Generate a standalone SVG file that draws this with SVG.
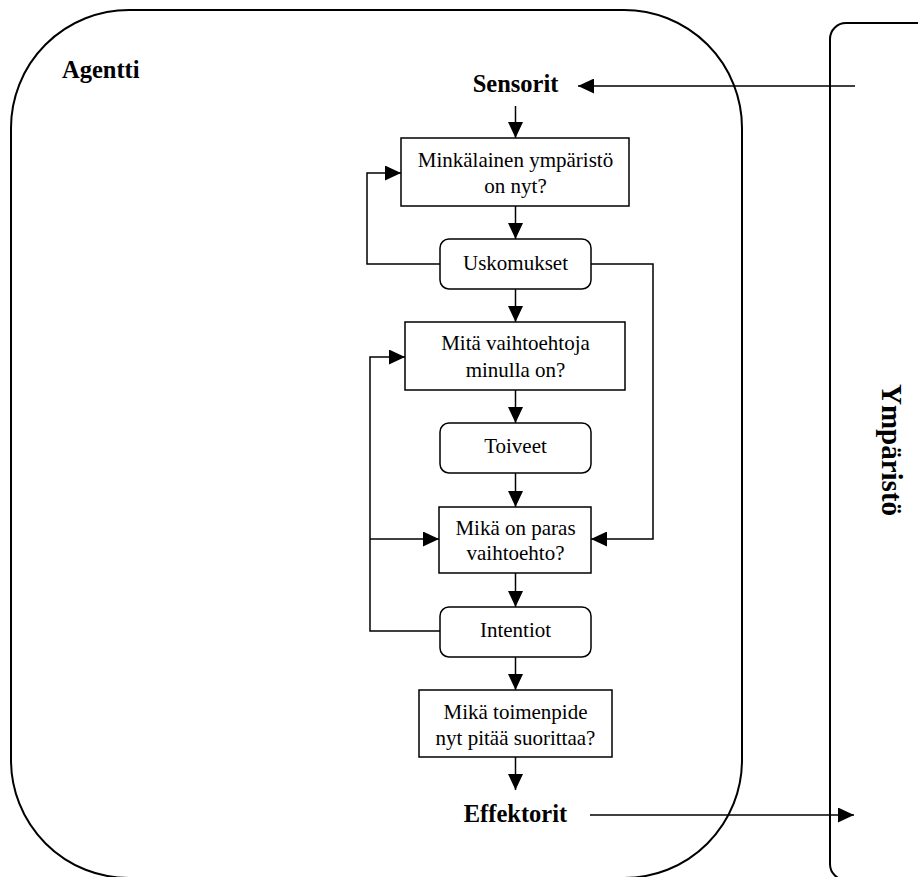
<svg xmlns="http://www.w3.org/2000/svg" width="918" height="877" viewBox="0 0 918 877">
  <style>
    .frame { fill: none; stroke: #000; stroke-width: 2; }
    .box { fill: #fff; stroke: #000; stroke-width: 1.5; }
    .wire { fill: none; stroke: #000; stroke-width: 1.5; }
    .lbl { font-family: "Liberation Serif", "Times New Roman", serif; font-size: 21px; text-anchor: middle; fill: #000; }
    .head { font-family: "Liberation Serif", "Times New Roman", serif; font-size: 24.5px; font-weight: bold; fill: #000; }
  </style>
  <defs>
    <marker id="arrow" viewBox="0 0 16 15" refX="16" refY="7.5" markerWidth="16" markerHeight="15" markerUnits="userSpaceOnUse" orient="auto">
      <path d="M0,0 L16,7.5 L0,15 z" fill="#000"/>
    </marker>
  </defs>

  <rect width="918" height="877" fill="#fff"/>

  <!-- agent boundary -->
  <g id="agentti">
    <rect class="frame" x="11" y="10" width="731" height="868" rx="118" ry="118"/>
    <text class="head" x="62" y="78">Agentti</text>
  </g>

  <!-- environment boundary -->
  <g id="ymparisto">
    <rect class="frame" x="830" y="23" width="120" height="857" rx="16" ry="16"/>
    <text class="head" style="font-size:29px" text-anchor="middle" transform="translate(882,450) rotate(90)">Ympäristö</text>
  </g>

  <g id="sensorit">
    <text class="head" x="515.5" y="92" text-anchor="middle">Sensorit</text>
  </g>

  <g id="effektorit">
    <text class="head" x="515.5" y="822" text-anchor="middle">Effektorit</text>
  </g>

  <g id="ymparisto-nyt">
    <rect class="box" x="401" y="138" width="228" height="68"/>
    <text class="lbl" x="515.5" y="167">Minkälainen ympäristö</text>
    <text class="lbl" x="515.5" y="193">on nyt?</text>
  </g>

  <g id="uskomukset">
    <rect class="box" x="440" y="239" width="151" height="50" rx="9" ry="9"/>
    <text class="lbl" x="515.5" y="270">Uskomukset</text>
  </g>

  <g id="vaihtoehdot">
    <rect class="box" x="405" y="322" width="220" height="68"/>
    <text class="lbl" x="515.5" y="350">Mitä vaihtoehtoja</text>
    <text class="lbl" x="515.5" y="377">minulla on?</text>
  </g>

  <g id="toiveet">
    <rect class="box" x="440" y="423" width="151" height="50" rx="9" ry="9"/>
    <text class="lbl" x="515.5" y="453">Toiveet</text>
  </g>

  <g id="paras">
    <rect class="box" x="439" y="507" width="152" height="66"/>
    <text class="lbl" x="515.5" y="535">Mikä on paras</text>
    <text class="lbl" x="515.5" y="560">vaihtoehto?</text>
  </g>

  <g id="intentiot">
    <rect class="box" x="440" y="607" width="151" height="50" rx="9" ry="9"/>
    <text class="lbl" x="515.5" y="637">Intentiot</text>
  </g>

  <g id="toimenpide">
    <rect class="box" x="419" y="690" width="193" height="67"/>
    <text class="lbl" x="515.5" y="719">Mikä toimenpide</text>
    <text class="lbl" x="515.5" y="745">nyt pitää suorittaa?</text>
  </g>

  <!-- connectors -->
  <g id="connectors">
    <path class="wire" d="M855,86 H578" marker-end="url(#arrow)"/>
    <path class="wire" d="M515.5,106 V138" marker-end="url(#arrow)"/>
    <path class="wire" d="M515.5,206 V239" marker-end="url(#arrow)"/>
    <path class="wire" d="M440,264 H367 V173 H401" marker-end="url(#arrow)"/>
    <path class="wire" d="M591,264 H653 V539 H591" marker-end="url(#arrow)"/>
    <path class="wire" d="M515.5,289 V322" marker-end="url(#arrow)"/>
    <path class="wire" d="M440,631 H370 V357 H405" marker-end="url(#arrow)"/>
    <path class="wire" d="M370,539 H439" marker-end="url(#arrow)"/>
    <path class="wire" d="M515.5,390 V423" marker-end="url(#arrow)"/>
    <path class="wire" d="M515.5,473 V507" marker-end="url(#arrow)"/>
    <path class="wire" d="M515.5,573 V607" marker-end="url(#arrow)"/>
    <path class="wire" d="M515.5,657 V690" marker-end="url(#arrow)"/>
    <path class="wire" d="M515.5,757 V790" marker-end="url(#arrow)"/>
    <path class="wire" d="M590,815 H854" marker-end="url(#arrow)"/>
  </g>
</svg>
